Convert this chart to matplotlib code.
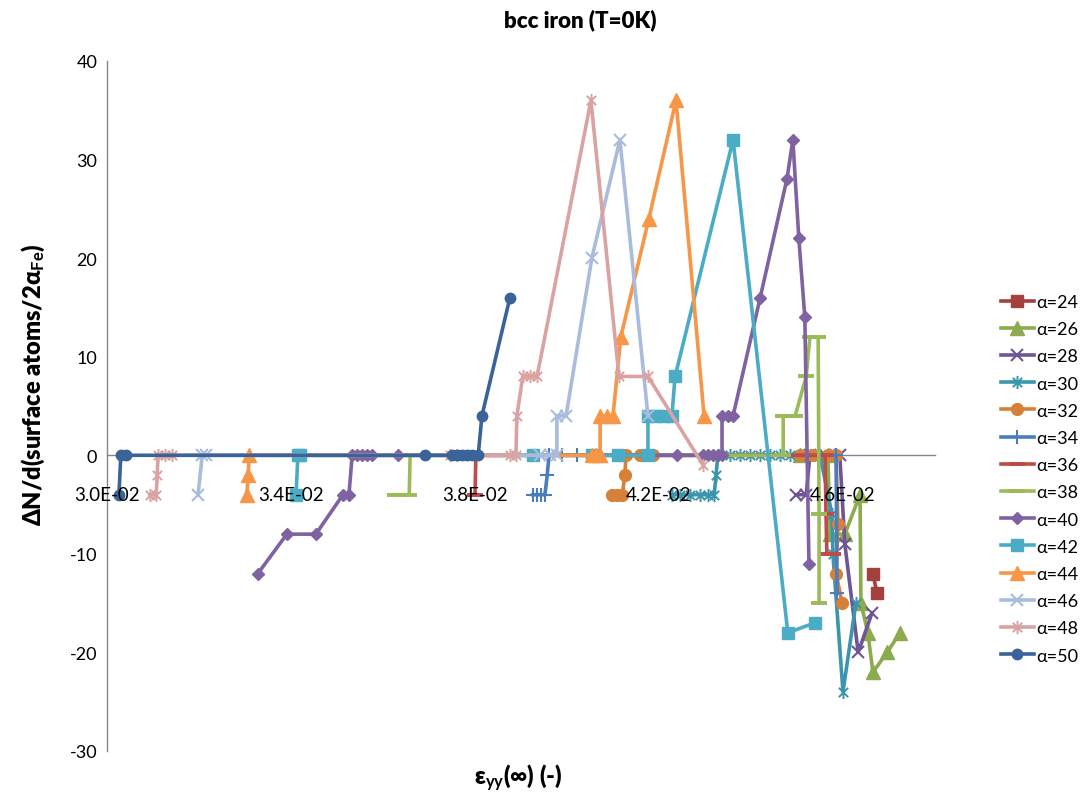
import matplotlib
matplotlib.use("Agg")
import matplotlib.pyplot as plt
from matplotlib.path import Path
from matplotlib.ticker import FixedLocator, FuncFormatter

plt.rcParams["font.family"] = ["Lato", "DejaVu Sans"]
plt.rcParams["mathtext.fontset"] = "custom"
plt.rcParams["mathtext.rm"] = "Lato"
plt.rcParams["mathtext.bf"] = "Lato:bold"
plt.rcParams["mathtext.it"] = "Lato:italic"
plt.rcParams["axes.unicode_minus"] = False

# ---- data: strain eps_yy(inf) vs. surface-atom change, one series per alpha ----
eps_a24 = [0.04665, 0.04674]
dn_a24 = [-12, -14]

eps_a26 = [0.04507, 0.04567, 0.04572, 0.04604, 0.04637, 0.04639, 0.04654, 0.04665, 0.04696, 0.04724]
dn_a26 = [0, 0, -8, -8, -4, -15, -18, -22, -20, -18]

eps_a28 = [0.04498, 0.04520, 0.04528, 0.04561, 0.04593, 0.04604, 0.04633, 0.04663]
dn_a28 = [-4, -4, 0, 0, 0, -9, -20, -16]

eps_a30 = [0.04228, 0.04246, 0.04267, 0.04289, 0.04307, 0.04320, 0.04324, 0.04328, 0.04354,
           0.04376, 0.04398, 0.04420, 0.04441, 0.04463, 0.04485, 0.04507, 0.04528, 0.04550,
           0.04576, 0.04578, 0.04600, 0.04628]
dn_a30 = [-4, -4, -4, -4, -4, -4, -2, 0, 0, 0, 0, 0, 0, 0, 0, 0, 0, 0, -6, -10, -24, -15]

eps_a32 = [0.04098, 0.04109, 0.04120, 0.04126, 0.04128, 0.04159, 0.04187, 0.04507, 0.04535,
           0.04567, 0.04585, 0.04589, 0.04585, 0.04598]
dn_a32 = [-4, -4, -4, -2, 0, 0, 0, 0, 0, 0, 0, -7, -12, -15]

eps_a34 = [0.03926, 0.03935, 0.03943, 0.03952, 0.03957, 0.03961, 0.03989, 0.04022, 0.04585, 0.04587]
dn_a34 = [-4, -4, -4, -4, -2, 0, 0, 0, 0, -14]

eps_a36 = [0.03800, 0.03802, 0.04561, 0.04563, 0.04565, 0.04578]
dn_a36 = [-4, 0, 0, -6, -10, -10]

eps_a38 = [0.03626, 0.03657, 0.03659, 0.04470, 0.04470, 0.04496, 0.04520, 0.04528, 0.04546,
           0.04548, 0.04548]
dn_a38 = [-4, -4, 0, 0, 4, 4, 8, 12, 12, -6, -15]

eps_a40 = [0.03328, 0.03391, 0.03454, 0.03513, 0.03526, 0.03533, 0.03543, 0.03554, 0.03565,
           0.03576, 0.03633, 0.04239, 0.04296, 0.04307, 0.04317, 0.04328, 0.04337, 0.04337,
           0.04350, 0.04361, 0.04420, 0.04478, 0.04491, 0.04504, 0.04517, 0.04526]
dn_a40 = [-12, -8, -8, -4, -4, 0, 0, 0, 0, 0, 0, 0, 0, 0, 0, 0, 0, 4, 4, 4, 16, 28, 32, 22, 14, -11]

eps_a42 = [0.03411, 0.03415, 0.03420, 0.03926, 0.04054, 0.04111, 0.04176, 0.04176, 0.04193,
           0.04211, 0.04228, 0.04235, 0.04361, 0.04480, 0.04539]
dn_a42 = [-4, 0, 0, 0, 0, 0, 0, 4, 4, 4, 4, 8, 32, -18, -17]

eps_a44 = [0.03304, 0.03307, 0.03309, 0.04054, 0.04063, 0.04072, 0.04072, 0.04087, 0.04100,
           0.04117, 0.04178, 0.04237, 0.04298]
dn_a44 = [-4, -2, 0, 0, 0, 0, 4, 4, 4, 12, 24, 36, 4]

eps_a46 = [0.03198, 0.03207, 0.03215, 0.03941, 0.03963, 0.03978, 0.03978, 0.03998, 0.04054,
           0.04115, 0.04176]
dn_a46 = [-4, 0, 0, 0, 0, 0, 4, 4, 20, 32, 4]

eps_a48 = [0.03093, 0.03107, 0.03109, 0.03111, 0.03126, 0.03141, 0.03746, 0.03761, 0.03876,
           0.03889, 0.03891, 0.03904, 0.03920, 0.03935, 0.04052, 0.04113, 0.04176, 0.04296]
dn_a48 = [-4, -4, -2, 0, 0, 0, 0, 0, 0, 0, 4, 8, 8, 8, 36, 8, 8, -1]

eps_a50 = [0.03026, 0.03030, 0.03041, 0.03691, 0.03750, 0.03761, 0.03772, 0.03783, 0.03793,
           0.03807, 0.03815, 0.03876]
dn_a50 = [-4, 0, 0, 0, 0, 0, 0, 0, 0, 0, 4, 16]

series_labels = ["α=24", "α=26", "α=28", "α=30", "α=32", "α=34", "α=36",
                 "α=38", "α=40", "α=42", "α=44", "α=46", "α=48", "α=50"]

x_ticks = [0.030, 0.034, 0.038, 0.042, 0.046]
y_ticks = [-30, -20, -10, 0, 10, 20, 30, 40]

# ---- styling ----
asterisk = Path([(0, -1), (0, 1), (-0.71, -0.71), (0.71, 0.71), (-0.71, 0.71), (0.71, -0.71)],
                [Path.MOVETO, Path.LINETO, Path.MOVETO, Path.LINETO, Path.MOVETO, Path.LINETO])

colors = ["#A4403D", "#8CAB4E", "#6E5595", "#3B95AD", "#D6803A", "#4A7EBB", "#BE4B48",
          "#9BBB59", "#7E62A1", "#4BACC6", "#F79646", "#A9BCDB", "#D8A3A2", "#3A6499"]

marker_styles = [
    dict(marker="s", ms=8.5),
    dict(marker="^", ms=9.5),
    dict(marker="x", ms=8.5, mew=1.5),
    dict(marker=asterisk, ms=9.5, mew=1.4, mfc="none"),
    dict(marker="o", ms=8.5),
    dict(marker="+", ms=10.5, mew=1.5),
    dict(marker="_", ms=11, mew=2.8),
    dict(marker="_", ms=12, mew=2.8),
    dict(marker="D", ms=6.5),
    dict(marker="s", ms=8.5),
    dict(marker="^", ms=9.5),
    dict(marker="x", ms=8.5, mew=1.5),
    dict(marker=asterisk, ms=9.5, mew=1.4, mfc="none"),
    dict(marker="o", ms=7.5),
]

xs = [eps_a24, eps_a26, eps_a28, eps_a30, eps_a32, eps_a34, eps_a36,
      eps_a38, eps_a40, eps_a42, eps_a44, eps_a46, eps_a48, eps_a50]
ys = [dn_a24, dn_a26, dn_a28, dn_a30, dn_a32, dn_a34, dn_a36,
      dn_a38, dn_a40, dn_a42, dn_a44, dn_a46, dn_a48, dn_a50]

fig = plt.figure(figsize=(10.82, 8.03), dpi=100)
ax = fig.add_axes([107 / 1082, 51 / 803, 828 / 1082, 690 / 803])

for i, (x, y, lab) in enumerate(zip(xs, ys, series_labels)):
    st = dict(marker_styles[i])
    st.setdefault("mew", 1.0)
    ax.plot(x, y, color=colors[i], lw=2.6, mec=colors[i], label=lab,
            zorder=2 + i * 0.01, solid_joinstyle="round", **st)

ax.set_xlim(0.030, 0.048)
ax.set_ylim(-30, 40)

for side in ("top", "right"):
    ax.spines[side].set_visible(False)
ax.spines["left"].set_color("#868686")
ax.spines["left"].set_linewidth(1.0)
ax.spines["bottom"].set_position(("data", 0))
ax.spines["bottom"].set_color("#868686")
ax.spines["bottom"].set_linewidth(1.0)
ax.spines["bottom"].set_zorder(1)

ax.xaxis.set_major_locator(FixedLocator(x_ticks))
ax.xaxis.set_major_formatter(FuncFormatter(lambda v, p: f"{v:.1E}"))
ax.yaxis.set_major_locator(FixedLocator(y_ticks))
ax.tick_params(axis="x", length=0, pad=22, labelsize=13.5, colors="black")
ax.tick_params(axis="y", length=0, pad=7, labelsize=13, colors="black")
ax.xaxis.set_zorder(5)

fig.text(580 / 1082, 1 - 20 / 803, "bcc iron (T=0K)", ha="center", va="center",
         fontsize=16, fontweight="heavy")
fig.text(518 / 1082, 1 - 778 / 803, r"ε$_{\mathbf{yy}}$(∞) (-)", ha="center", va="center",
         fontsize=17, fontweight="heavy")
fig.text(33 / 1082, 1 - 385 / 803, r"ΔN/d(surface atoms/2α$_{\mathbf{Fe}}$)",
         ha="center", va="center", rotation=90, fontsize=17, fontweight="heavy")

leg = ax.legend(loc="upper left", bbox_to_anchor=(992 / 1082, 1 - 286 / 803),
                bbox_transform=fig.transFigure, frameon=False, fontsize=13,
                handlelength=1.8, handletextpad=0.15, labelspacing=0.62,
                borderpad=0, numpoints=1)

fig.savefig("out.png", dpi=100)
